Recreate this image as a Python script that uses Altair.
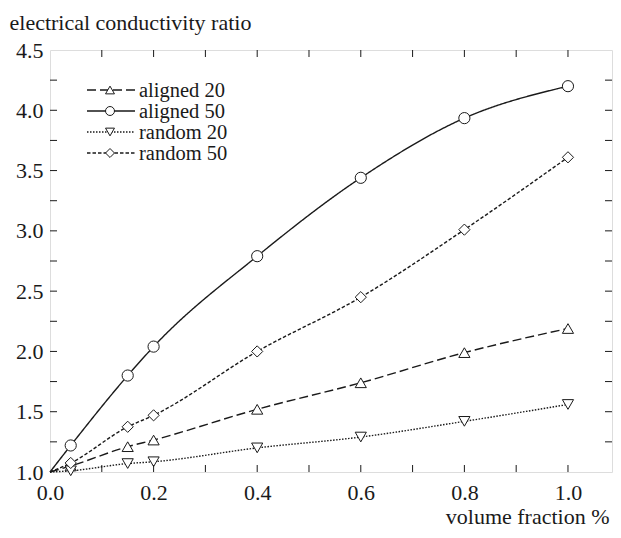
import altair as alt
import pandas as pd

# ---- data ----
series = ["aligned 20", "aligned 50", "random 20", "random 50"]
x_vals = [0.0, 0.04, 0.15, 0.2, 0.4, 0.6, 0.8, 1.0]
aligned20 = [1.0, 1.05, 1.21, 1.265, 1.52, 1.74, 1.99, 2.19]
aligned50 = [1.0, 1.22, 1.80, 2.04, 2.79, 3.44, 3.935, 4.20]
random20 = [1.0, 1.01, 1.07, 1.085, 1.20, 1.29, 1.42, 1.56]
random50 = [1.0, 1.075, 1.375, 1.47, 2.00, 2.45, 3.01, 3.61]

x_labels = [0.0, 0.2, 0.4, 0.6, 0.8, 1.0]
y_labels = [1.0, 1.5, 2.0, 2.5, 3.0, 3.5, 4.0, 4.5]
x_minor = [0.1, 0.2, 0.3, 0.4, 0.5, 0.6, 0.7, 0.8, 0.9, 1.0]
y_minor = [1.25, 1.5, 1.75, 2.0, 2.25, 2.5, 2.75, 3.0, 3.25, 3.5, 3.75, 4.0, 4.25]

values = {"aligned 20": aligned20, "aligned 50": aligned50,
          "random 20": random20, "random 50": random50}

# ---- styles ----
FONT = "Liberation Serif"
INK = "#1a1a1a"
W, H = 562, 422
TICK = 7
FS = 22
LFS = 20.5
shapes = {"aligned 20": "triangle-up", "aligned 50": "circle",
          "random 20": "triangle-down", "random 50": "diamond"}
dashes = {"aligned 20": [9, 4], "aligned 50": [1, 0],
          "random 20": [1.5, 1.5], "random 50": [3.5, 2]}

xs = alt.Scale(domain=[0, 1.085], nice=False, zero=False)
ys = alt.Scale(domain=[1, 4.5], nice=False, zero=False)

x_axis = alt.Axis(values=x_labels, format=".1f", ticks=False, tickSize=0, domain=False,
                  grid=False, labelPadding=10, labelFontSize=FS, labelFont=FONT,
                  labelColor=INK, title="volume fraction %", titleX=W - 3, titleY=51,
                  titleAlign="right", titleBaseline="alphabetic", titleFontWeight="normal",
                  titleFontSize=FS, titleFont=FONT, titleColor=INK, labelFlush=False)
y_axis = alt.Axis(values=y_labels, format=".1f", ticks=False, tickSize=0, domain=False,
                  grid=False, labelPadding=7, labelFontSize=FS, labelFont=FONT,
                  labelColor=INK, title="electrical conductivity ratio", titleX=-41,
                  titleY=-21, titleAngle=0, titleAlign="left", titleBaseline="alphabetic",
                  titleFontWeight="normal", titleFontSize=FS, titleFont=FONT,
                  titleColor=INK, labelFlush=False)

rows = []
for s in series:
    for xv, yv in zip(x_vals, values[s]):
        rows.append({"series": s, "x": xv, "y": yv})
df = pd.DataFrame(rows)

layers = []
for s in series:
    d = df[df.series == s]
    layers.append(
        alt.Chart(d).mark_line(interpolate="monotone", strokeDash=dashes[s],
                               color=INK, strokeWidth=1.4)
        .encode(x=alt.X("x:Q", scale=xs, axis=x_axis),
                y=alt.Y("y:Q", scale=ys, axis=y_axis))
    )
for s in series:
    d = df[(df.series == s) & (df.x > 0)]
    layers.append(
        alt.Chart(d).mark_point(shape=shapes[s], size=125, filled=True, fill="white",
                                stroke=INK, strokeWidth=1, opacity=1)
        .encode(x=alt.X("x:Q", scale=xs, axis=x_axis),
                y=alt.Y("y:Q", scale=ys, axis=y_axis))
    )

# inward ticks on all four sides
xt = pd.DataFrame({"x": x_minor})
yt = pd.DataFrame({"y": y_minor})
for y0, y1 in [(H, H - TICK), (0, TICK)]:
    layers.append(
        alt.Chart(xt).mark_rule(color=INK, strokeWidth=1)
        .encode(x=alt.X("x:Q", scale=xs, axis=x_axis), y=alt.value(y0), y2=alt.value(y1))
    )
for x0, x1 in [(0, TICK), (W, W - TICK)]:
    layers.append(
        alt.Chart(yt).mark_rule(color=INK, strokeWidth=1)
        .encode(y=alt.Y("y:Q", scale=ys, axis=y_axis), x=alt.value(x0), x2=alt.value(x1))
    )

# legend (top-left, inside the frame)
one = pd.DataFrame({"k": [0]})
leg_y = [40, 61, 82, 103]
for s, ry in zip(series, leg_y):
    layers.append(
        alt.Chart(one).mark_rule(color=INK, strokeWidth=1.3, strokeDash=dashes[s])
        .encode(x=alt.value(37), x2=alt.value(85), y=alt.value(ry))
    )
    layers.append(
        alt.Chart(one).mark_point(shape=shapes[s], size=80, filled=True, fill="white",
                                  stroke=INK, strokeWidth=1, opacity=1)
        .encode(x=alt.value(60), y=alt.value(ry))
    )
    layers.append(
        alt.Chart(one).mark_text(text=s, font=FONT, fontSize=LFS, color=INK,
                                 align="left", baseline="middle")
        .encode(x=alt.value(89), y=alt.value(ry + 1))
    )

chart = (
    alt.layer(*layers)
    .properties(width=W, height=H, autosize=alt.AutoSizeParams(type="none"),
                padding={"left": 42, "top": 42, "right": 1, "bottom": 56})
    .configure_view(stroke=INK, strokeWidth=1.5)
    .configure(background="white", font=FONT)
)

chart.save("out.html", embed_options={"renderer": "svg", "actions": False})
